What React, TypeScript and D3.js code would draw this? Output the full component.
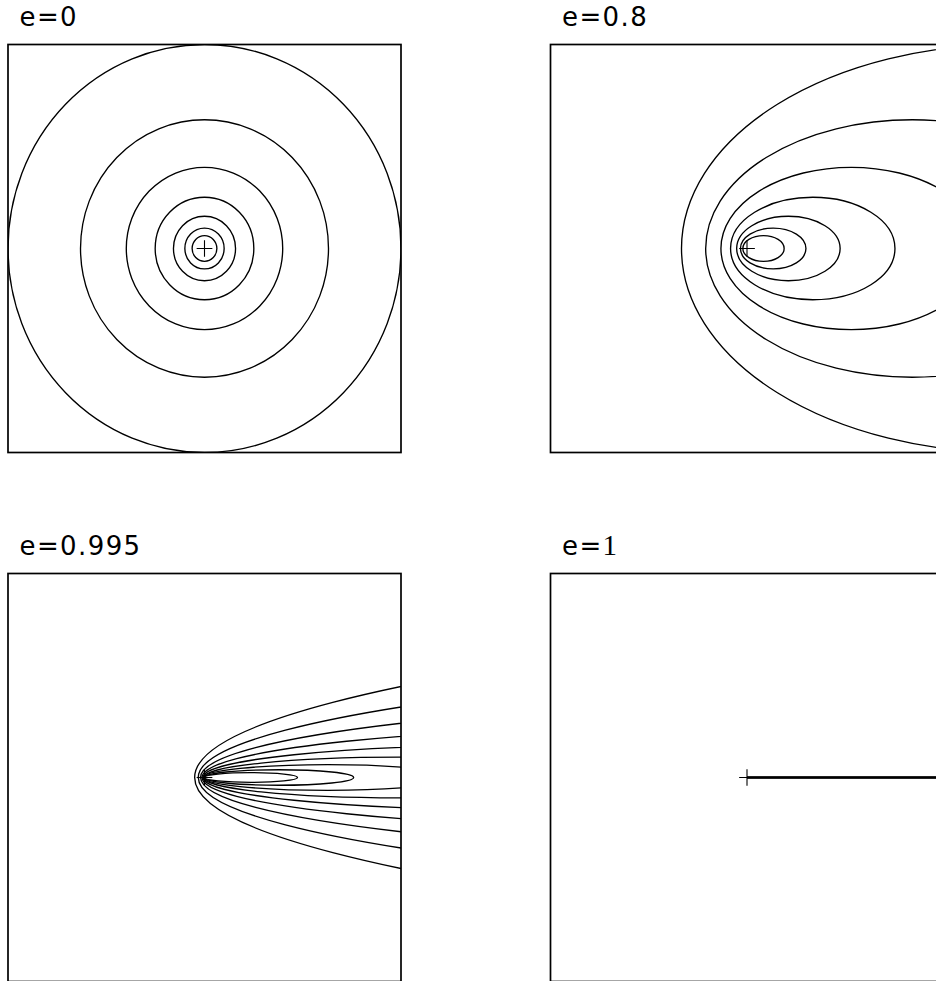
import React from "react";
import * as d3 from "d3";

// Eccentricity of each panel (reading order) and its title
const ECCENTRICITIES = [0, 0.8, 0.995, 1];
const TITLE_VALUES = ["0", "0.8", "0.995", "1"];
// Semi-minor axes of the drawn orbits (shared by all panels)
const SEMI_MINOR = [1, 0.631, 0.398, 0.251, 0.158, 0.1, 0.063];
// Extra tiny orbits visible only in the e=0.995 panel
const SEMI_MINOR_EXTRA_0995 = [0.038, 0.0237];
// Plot range of every panel
const X_DOMAIN = [-1, 1];
const Y_DOMAIN = [-1, 1];
const MARKER = 0.04;

const W = 936;
const H = 981;
const PW = 393;
const PH = 408;
const ORIGINS: [number, number][] = [
  [8, 44.5],
  [550.5, 44.5],
  [8, 573.5],
  [550.5, 573.5],
];

function Panel({ idx }: { idx: number }) {
  const e = ECCENTRICITIES[idx];
  const [left, top] = ORIGINS[idx];
  const x = d3.scaleLinear().domain(X_DOMAIN).range([left, left + PW]);
  const y = d3.scaleLinear().domain(Y_DOMAIN).range([top + PH, top]);
  const bs = idx === 2 ? SEMI_MINOR.concat(SEMI_MINOR_EXTRA_0995) : SEMI_MINOR;
  const clipId = `clip-${idx}`;
  const lineGen = d3
    .line<[number, number]>()
    .x((d) => x(d[0]))
    .y((d) => y(d[1]));

  return (
    <g>
      <defs>
        <clipPath id={clipId}>
          <rect x={left} y={top} width={PW} height={PH} />
        </clipPath>
      </defs>
      <g clipPath={`url(#${clipId})`}>
        {bs.map((b, i) => {
          if (e >= 1) {
            return (
              <path
                key={i}
                d={lineGen([
                  [0, 0],
                  [X_DOMAIN[1] * 2, 0],
                ]) as string}
                fill="none"
                stroke="#000"
                strokeWidth={1.5}
              />
            );
          }
          const a = b / Math.sqrt(1 - e * e);
          return (
            <ellipse
              key={i}
              cx={x(a * e)}
              cy={y(0)}
              rx={x(a) - x(0)}
              ry={y(0) - y(b)}
              fill="none"
              stroke="#000"
              strokeWidth={1.35}
            />
          );
        })}
        <path
          d={lineGen([
            [-MARKER, 0],
            [MARKER, 0],
          ]) as string}
          stroke="#000"
          strokeWidth={1.1}
        />
        <path
          d={lineGen([
            [0, -MARKER],
            [0, MARKER],
          ]) as string}
          stroke="#000"
          strokeWidth={1.1}
        />
      </g>
      <rect
        x={left}
        y={top}
        width={PW}
        height={PH}
        fill="none"
        stroke="#000"
        strokeWidth={1.7}
      />
      <text
        x={left + 11.5}
        y={top - 19}
        fontFamily="DejaVu Sans, sans-serif"
        fontSize={26}
        letterSpacing={1.4}
        fill="#000"
      >
        e=
        {TITLE_VALUES[idx] === "1" ? (
          <tspan fontFamily="Liberation Serif, serif" fontSize={29}>
            1
          </tspan>
        ) : (
          TITLE_VALUES[idx]
        )}
      </text>
    </g>
  );
}

export default function App() {
  return (
    <svg
      width={W}
      height={H}
      viewBox={`0 0 ${W} ${H}`}
      style={{ position: "absolute", left: 0, top: 0, background: "#fff" }}
    >
      <rect x={0} y={0} width={W} height={H} fill="#fff" />
      {ECCENTRICITIES.map((_, i) => (
        <Panel key={i} idx={i} />
      ))}
    </svg>
  );
}
